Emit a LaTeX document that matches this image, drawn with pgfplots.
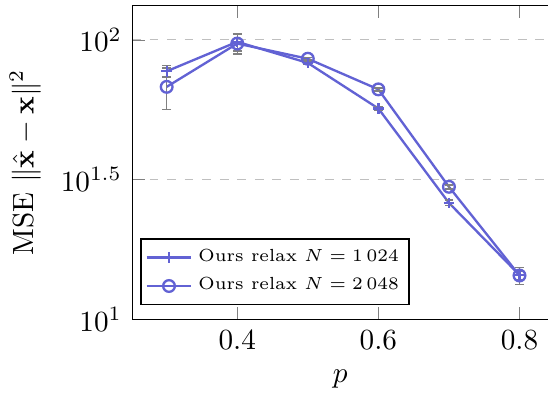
\documentclass[border=0pt]{standalone}
\usepackage{pgfplots}
\pgfplotsset{compat=1.18}
\definecolor{lineblue}{RGB}{98,98,212}
\begin{document}
\begin{tikzpicture}
\begin{axis}[
  scale only axis,
  width=142.5pt, height=107.5pt,
  ymode=log,
  xmin=0.251, xmax=0.841,
  ymin=10, ymax=133,
  xtick={0.4,0.6,0.8},
  xticklabels={0.4,0.6,0.8},
  ytick={10,31.6228,100},
  yticklabels={$10^{1}$,$10^{1.5}$,$10^{2}$},
  yminorticks=false,
  axis y line*=left,
  y axis line style={-},
  ymajorgrids,
  grid style={dashed, gray!50},
  xlabel={$p$},
  ylabel={MSE $\|\hat{\mathbf{x}}-\mathbf{x}\|^2$},
  legend style={at={(0.02,0.045)}, anchor=south west, font=\fontsize{6}{7.5}\selectfont, draw=black, inner sep=1.5pt},
  legend cell align=left,
  legend image code/.code={\draw[mark repeat=2,mark phase=2,#1] plot coordinates {(0cm,0cm) (0.27cm,0cm) (0.54cm,0cm)};},
]
\addplot[color=lineblue, thick, mark=+, mark size=1.8pt,
  error bars/.cd, y dir=both, y explicit,
  error bar style={gray, line width=0.5pt},
  error mark options={gray, mark size=1.5pt, rotate=90, line width=0.5pt}]
coordinates {
 (0.3,77.2) +- (0,3.7)
 (0.4,98.4) +- (0,7.0)
 (0.5,82.7) +- (0,1.0)
 (0.6,56.8) +- (0,1.0)
 (0.7,26.1) +- (0,0.6)
 (0.8,14.4) +- (0,0.5)
};
\addlegendentry{Ours relax $N=1\,024$}
\addplot[color=lineblue, thick, mark=o, mark size=2pt,
  error bars/.cd, y dir=both, y explicit,
  error bar style={gray, line width=0.5pt},
  error mark options={gray, mark size=1.5pt, rotate=90, line width=0.5pt}]
coordinates {
 (0.3,67.9) +- (0,11.5)
 (0.4,97.0) +- (0,8.0)
 (0.5,85.6) +- (0,1.0)
 (0.6,66.5) +- (0,0.8)
 (0.7,29.8) +- (0,0.5)
 (0.8,14.35) +- (0,1.0)
};
\addlegendentry{Ours relax $N=2\,048$}
\end{axis}
\path ([yshift=1.8pt]current axis.north);
\end{tikzpicture}
\end{document}
